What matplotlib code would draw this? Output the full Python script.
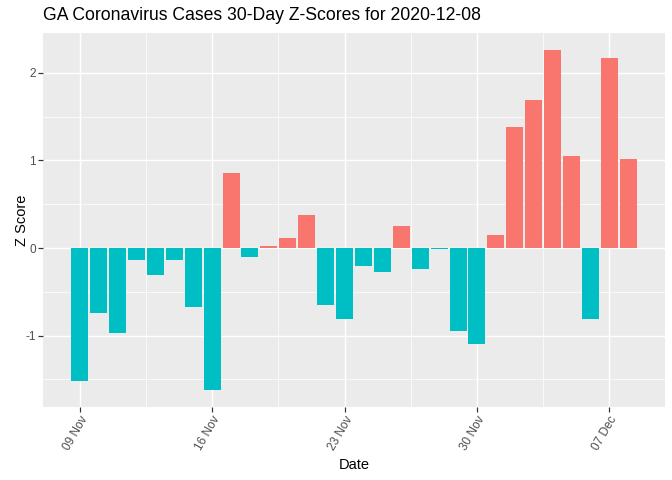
import numpy as np
import pandas as pd
import matplotlib
matplotlib.use("Agg")
import matplotlib.pyplot as plt
import matplotlib.dates as mdates
from matplotlib.ticker import MultipleLocator

plt.rcParams['font.family'] = ['Liberation Sans', 'DejaVu Sans']
plt.rcParams['axes.unicode_minus'] = False

# 30 days of z-scores
dates = pd.date_range("2020-11-09", "2020-12-08", freq="D")
zscores = [-1.52, -0.74, -0.97, -0.14, -0.31, -0.14, -0.67, -1.62,
           0.86, -0.10, 0.02, 0.12, 0.38, -0.65, -0.81, -0.21,
           -0.27, 0.25, -0.24, -0.015, -0.95, -1.09, 0.15, 1.38,
           1.69, 2.26, 1.05, -0.81, 2.17, 1.02]
tick_dates = pd.to_datetime(["2020-11-09", "2020-11-16", "2020-11-23",
                             "2020-11-30", "2020-12-07"])

pos_color = "#F8766D"
neg_color = "#00BFC4"
colors = [pos_color if z > 0 else neg_color for z in zscores]

fig = plt.figure(figsize=(7, 5), dpi=96)
ax = fig.add_axes([43 / 672, (480 - 407) / 480, (665 - 43) / 672, (407 - 33) / 480])
ax.set_facecolor("#EBEBEB")

ax.bar(dates, zscores, width=0.9, color=colors, zorder=3)

ax.set_xticks(tick_dates)
ax.xaxis.set_major_formatter(mdates.DateFormatter("%d %b"))
minor = [mdates.date2num(d) + 3.5 for d in tick_dates]
ax.set_xticks(minor, minor=True)
ax.yaxis.set_major_locator(MultipleLocator(1))
ax.yaxis.set_minor_locator(MultipleLocator(0.5))

# ggplot-like expansion
lo, hi = min(zscores), max(zscores)
pad = (hi - lo) * 0.05
ax.set_ylim(lo - pad, hi + pad)
x0 = mdates.date2num(dates[0]) - 0.45
x1 = mdates.date2num(dates[-1]) + 0.45
xpad = (x1 - x0) * 0.05
ax.set_xlim(x0 - xpad, x1 + xpad)

ax.grid(which="major", color="white", linewidth=1.1, zorder=1)
ax.grid(which="minor", color="white", linewidth=0.55, zorder=1)
for s in ax.spines.values():
    s.set_visible(False)

ax.tick_params(which="major", length=3.5, width=0.9, color="#333333",
               labelcolor="#4D4D4D", labelsize=8.8, pad=2)
ax.tick_params(which="minor", length=0)
for lab in ax.get_xticklabels():
    lab.set_rotation(60)
    lab.set_ha("right")
    lab.set_va("top")
    lab.set_rotation_mode("anchor")

ax.set_xlabel("Date", fontsize=11, labelpad=4)
ax.set_ylabel("Z Score", fontsize=11)
ax.yaxis.set_label_coords(-0.022, 0.5)
fig.text(43 / 672, 1 - 16 / 480, "GA Coronavirus Cases 30-Day Z-Scores for 2020-12-08",
         fontsize=13.2, ha="left", va="center")

fig.savefig("out.png", dpi=96)
